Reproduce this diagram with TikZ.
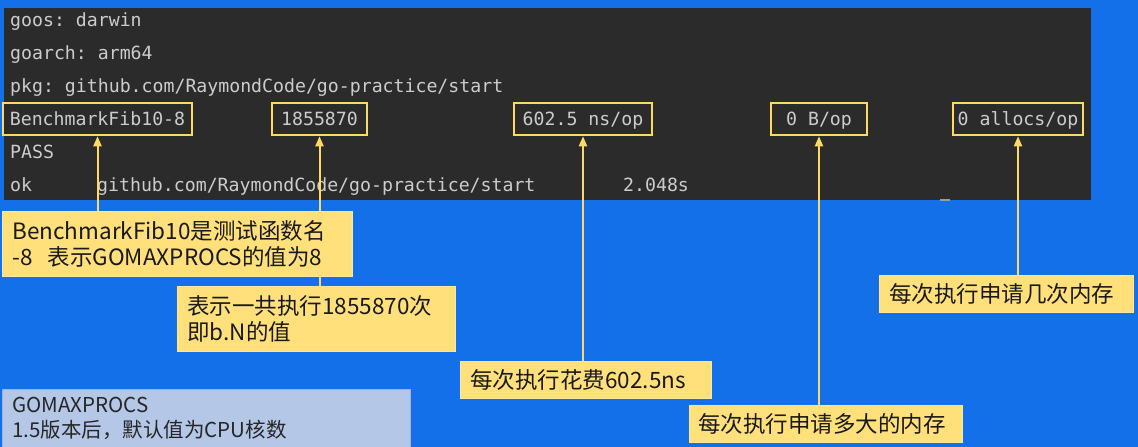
\documentclass[tikz,border=0pt]{standalone}
\usepackage{fontspec}
\setmonofont{DejaVu Sans Mono}
\newfontfamily\cjk{Noto Sans CJK SC}
\usetikzlibrary{arrows.meta}
\definecolor{bgblue}{HTML}{1370E8}
\definecolor{term}{HTML}{2B2B2B}
\definecolor{termtxt}{HTML}{CCCCCC}
\definecolor{hl}{HTML}{FFD966}
\definecolor{callfill}{HTML}{FFE07A}
\definecolor{callline}{HTML}{FFE699}
\definecolor{notefill}{HTML}{B4C7E7}
\pgfdeclarelayer{arrowlayer}
\pgfdeclarelayer{front}
\pgfsetlayers{main,arrowlayer,front}
\tikzset{
  termtext/.style={anchor=base west, inner sep=0, text=termtxt, font=\ttfamily\fontsize{18.2}{20}\selectfont},
  hlbox/.style={draw=hl, line width=2.5pt, inner sep=0, text=termtxt, text height=14pt, text depth=2pt, font=\ttfamily\fontsize{18.2}{20}\selectfont},
  callout/.style={anchor=north west, fill=callfill, draw=callline, line width=0.8pt, inner xsep=10pt, inner ysep=0pt, align=left, text=black!90, font=\cjk\fontsize{22.5}{26}\selectfont},
  note/.style={anchor=north west, fill=notefill, draw=notefill!90!black, line width=0.6pt, inner xsep=10pt, inner ysep=0pt, align=left, text=black!85, font=\cjk\fontsize{20.5}{25}\selectfont},
  pointer/.style={draw=hl, line width=2pt, -{Triangle[length=10pt,width=8pt]}}
}
\begin{document}
\begin{tikzpicture}[x=1pt,y=-1pt]
\fill[bgblue] (0,0) rectangle (1138,447);
\useasboundingbox (0,0) rectangle (1138,447);
\fill[term] (4,8) rectangle (1091,200);
\fill[termtxt!70!term] (940,198.5) rectangle (950,200.5);
% terminal lines
\node[termtext] (l1) at (10,26) {goos: darwin};
\node[termtext] (l2) at (10,59) {goarch: arm64};
\node[termtext] (l3) at (10,92) {pkg: github.com/RaymondCode/go-practice/start};
\node[termtext] (l5) at (10,158) {PASS};
\node[termtext] (l6a) at (10,191) {ok};
\node[termtext] (l6b) at (97,191) {github.com/RaymondCode/go-practice/start};
\node[termtext] (l6c) at (623,191) {2.048s};
% highlighted fields
\node[hlbox, minimum width=189pt, minimum height=32pt] (b1) at (97.5,119) {BenchmarkFib10-8};
\node[hlbox, minimum width=95pt, minimum height=32pt] (b2) at (319.5,119) {1855870};
\node[hlbox, minimum width=138pt, minimum height=32pt] (b3) at (583,119) {602.5 ns/op};
\node[hlbox, minimum width=96pt, minimum height=32pt] (b4) at (819,119) {0 B/op};
\node[hlbox, minimum width=130pt, minimum height=32pt] (b5) at (1018,119) {0 allocs/op};
% callouts
\begin{pgfonlayer}{front}
\node[callout, text width=330pt, minimum height=65pt] (c1) at (2,211) {BenchmarkFib10是测试函数名\\-8\ \ 表示GOMAXPROCS的值为8};
\node[callout, text width=258pt, minimum height=65pt] (c2) at (177,286) {表示一共执行1855870次\\即b.N的值};
\node[callout, text width=231pt, minimum height=37pt] (c3) at (460,361) {每次执行花费602.5ns};
\node[callout, text width=255pt, minimum height=37pt, inner xsep=9pt] (c4) at (689,405) {每次执行申请多大的内存};
\node[callout, text width=234pt, minimum height=37pt] (c5) at (879,275) {每次执行申请几次内存};
\node[note, text width=388pt, minimum height=58pt] (n1) at (2,389) {GOMAXPROCS\\1.5版本后，默认值为CPU核数};
\end{pgfonlayer}
% pointers
\begin{pgfonlayer}{arrowlayer}
\draw[pointer] (c1.north -| b1.south) -- (b1.south);
\draw[pointer] (c2.north -| b2.south) -- (b2.south);
\draw[pointer] (c3.north -| b3.south) -- (b3.south);
\draw[pointer] (c4.north -| b4.south) -- (b4.south);
\draw[pointer] (c5.north -| b5.south) -- (b5.south);
\end{pgfonlayer}
\end{tikzpicture}
\end{document}
